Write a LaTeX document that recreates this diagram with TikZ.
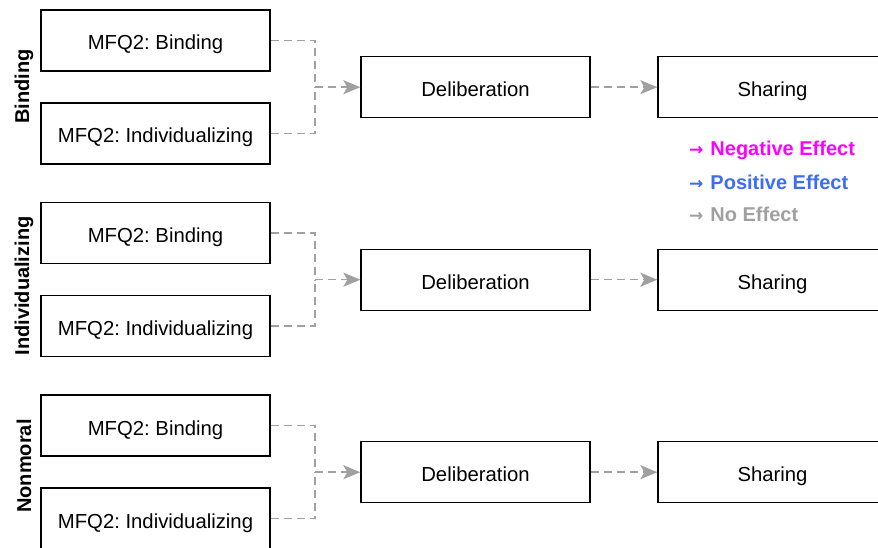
\documentclass[tikz,border=0pt]{standalone}
\usepackage{fontspec}
\setmainfont{Liberation Sans}
\newfontfamily\arrowfont{DejaVu Sans}
\usetikzlibrary{arrows.meta}
\definecolor{linegray}{HTML}{A0A0A0}
\definecolor{negmag}{HTML}{FF00FF}
\definecolor{posblue}{HTML}{3D6CF5}
\definecolor{nogray}{HTML}{A0A0A0}
\frenchspacing
\newcommand{\legarrow}{{\arrowfont\fontsize{17}{20}\selectfont →}\hspace{7pt}}
\begin{document}
\begin{tikzpicture}[x=1pt,y=-1pt,
  box/.style={draw=black, line width=1.3pt, minimum width=229pt, minimum height=61pt, inner sep=0pt, text height=19pt, text depth=0pt, font=\fontsize{20.3}{22}\selectfont},
  conn/.style={draw=linegray, line width=1.5pt, dash pattern=on 8pt off 5pt},
  arr/.style={conn, -{Stealth[length=17pt,width=14pt,inset=4pt]}},
  side/.style={rotate=90, font=\bfseries\fontsize{20}{22}\selectfont},
  leg/.style={anchor=base west, inner sep=0pt, font=\bfseries\fontsize{20}{22}\selectfont}]
\useasboundingbox (0,0) rectangle (878,548);
\clip (0,0) rectangle (878,548);
\foreach \r/\lab/\ly in {0/Binding/86.5,1/Individualizing/286,2/Nonmoral/466}{
  \pgfmathsetmacro{\off}{\r*192.5}
  \node[box] (b\r) at (155.5,40.5+\off) {MFQ2: Binding};
  \node[box] (i\r) at (155.5,133.5+\off) {MFQ2: Individualizing};
  \node[box] (d\r) at (475.5,87.2+\off) {Deliberation};
  \node[box] (s\r) at (772.5,87.2+\off) {Sharing};
  \node[side] (lab\r) at (24,\ly) {\lab};
  \coordinate (j\r) at (315,87.2+\off);
  \draw[conn] (b\r.east) -| (j\r);
  \draw[conn] (i\r.east) -| (j\r);
  \draw[arr] (j\r) -- (d\r.west);
  \draw[arr] (d\r.east) -- (s\r.west);
}
\node[leg, text=negmag] (lneg) at (689,156) {\legarrow Negative Effect};
\node[leg, text=posblue] (lpos) at (689,190) {\legarrow Positive Effect};
\node[leg, text=nogray] (lno) at (689,221.5) {\legarrow No Effect};
\end{tikzpicture}
\end{document}
